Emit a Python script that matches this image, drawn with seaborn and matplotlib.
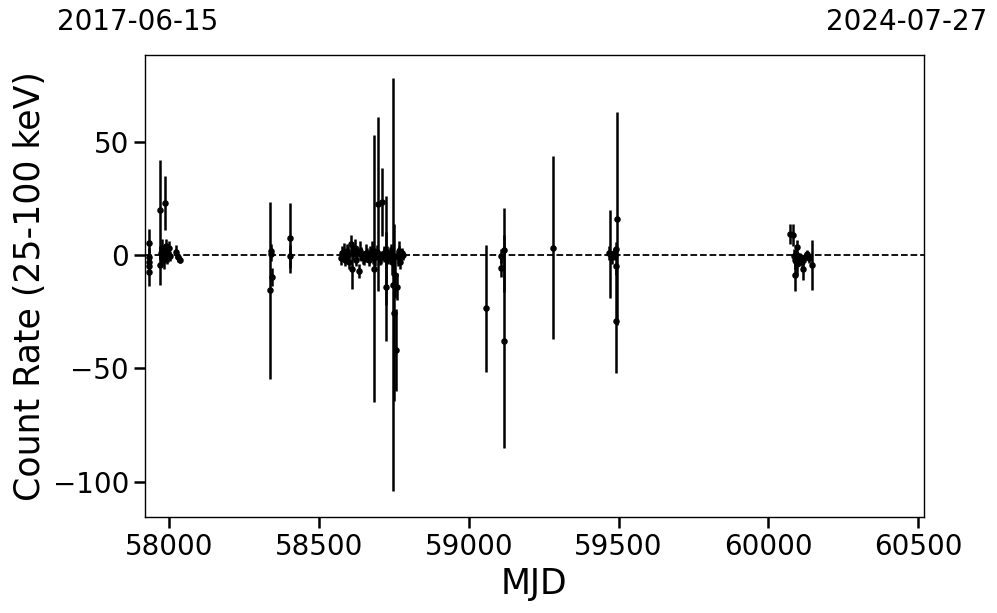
import numpy as np
import pandas as pd
import matplotlib
matplotlib.use("Agg")
import matplotlib.pyplot as plt
import seaborn as sns

# ---- data ----
mjd = [
    57933, 57933, 57933, 57933, 57933,
    57968, 57970, 57972, 57975, 57977, 57980, 57983, 57985, 57987, 57990, 57993, 57996, 58000, 58003,
    58023, 58028, 58037,
    58337, 58339, 58341, 58343, 58404, 58404,
    58574, 58578, 58584, 58588, 58594, 58598, 58601, 58607, 58611, 58615, 58621, 58625, 58628, 58634,
    58638, 58641, 58646, 58651, 58656, 58661, 58666, 58671, 58676, 58681, 58684, 58688, 58692, 58698,
    58704, 58708, 58711, 58716, 58718, 58722, 58724, 58728, 58731, 58736, 58741, 58744, 58748, 58751,
    58754, 58758, 58761, 58764, 58766, 58768, 58771, 58774, 58777, 58781,
    59058, 59108, 59108, 59118, 59118, 59282,
    59468, 59472, 59478, 59484, 59488, 59490, 59492, 59493, 59494,
    60072, 60081, 60085, 60088, 60090, 60092, 60095, 60097, 60102, 60107, 60112, 60117, 60122, 60130,
    60135, 60147,
]
rate = [
    5.5, -1, -3, -5, -7.5,
    -4.5, 20, 1, -1, 3, 0, -2, 23, 2, 4, -1, 1, 3, -0.5,
    1.5, -1, -2,
    -15.5, 0.5, 2, -9.5, 7.5, -0.5,
    -1.3, 1, 1.5, -2, 2, 0, -3, 5, -6, 1, 3, -2, 1, -7,
    2, 0.5, -1, -1.5, 1, 0, -2, 1, 2, -1, -6, -1, 1.5, 22.5,
    -1.5, -1, 23.5, 1, 0, 2, -14, 1, -1, 0.5, 1, -3, -13, -25.5,
    -9, -42, -14, -1, 1, 2, -3, -0.5, 1, 0,
    -23.5, -0.5, -5.5, 2.2, -38, 3.3,
    1, 0.4, -1, 1, 0, 2.6, -29, -5, 16,
    9.3, 8.8, -0.5, -8.8, -2, 0.5, 3.5, -4, -2, -1, -3, -6, -1, 0.4,
    -1.5, -4.2,
]
err = [
    6, 4, 4, 3, 6,
    8.5, 22, 4, 3, 4, 3, 4, 12, 3, 3, 3, 4, 3, 2,
    3, 2, 1.5,
    39, 3, 3, 4, 15.5, 5,
    3, 3, 4, 3, 3, 4, 3, 4, 9, 3, 4, 3, 3, 3,
    4, 3, 3, 3, 4, 3, 3, 3, 4, 3, 59, 4, 3, 38.5,
    3, 3, 15, 3, 3, 24, 24, 3, 3, 3, 4, 6, 91, 39,
    10, 18, 6, 4, 3, 4, 3, 3, 2, 2,
    28, 3, 4, 18.5, 47, 40.5,
    3, 19.5, 3, 2, 2, 3, 23, 4, 47,
    4.5, 5, 3, 7, 4, 3, 3, 5, 3, 2, 3, 5, 2, 2,
    2, 11,
]
x_limits = [57919, 60518]
y_limits = [-115.6, 88.3]
start_label = "2017-06-15"
end_label = "2024-07-27"

df = pd.DataFrame({"MJD": mjd, "rate": rate, "err": err})

sns.set_style("ticks")
plt.rcParams["font.family"] = ["DejaVu Sans"]
plt.rcParams["text.color"] = "black"
plt.rcParams["axes.labelcolor"] = "black"
plt.rcParams["xtick.color"] = "black"
plt.rcParams["ytick.color"] = "black"

fig = plt.figure(figsize=(9.97, 6.13), dpi=100)
ax = fig.add_axes([145 / 997, 1 - 517 / 613, (923.5 - 145) / 997, (517 - 55) / 613])

ax.errorbar(df["MJD"], df["rate"], yerr=df["err"], fmt="none", ecolor="black",
            elinewidth=1.8, capsize=0, zorder=2)
sns.scatterplot(data=df, x="MJD", y="rate", color="black", s=22, edgecolor="black",
                linewidth=0, ax=ax, zorder=3)
ax.axhline(0, color="black", linestyle="--", linewidth=1.3, zorder=1)

ax.set_xlim(x_limits)
ax.set_ylim(y_limits)
ax.set_xticks([58000, 58500, 59000, 59500, 60000, 60500])
ax.set_yticks([-100, -50, 0, 50])
ax.set_xlabel("MJD", fontsize=25, color="black")
ax.set_ylabel("Count Rate (25-100 keV)", fontsize=25, color="black")
ax.tick_params(axis="both", labelsize=20, length=8, width=1.8, color="black", labelcolor="black")
for sp in ax.spines.values():
    sp.set_linewidth(1.0)
    sp.set_color("black")

fig.text(57 / 997, 1 - 22 / 613, start_label, fontsize=20, ha="left", va="center", color="black")
fig.text(987 / 997, 1 - 22 / 613, end_label, fontsize=20, ha="right", va="center", color="black")

fig.savefig("out.png", dpi=100)
